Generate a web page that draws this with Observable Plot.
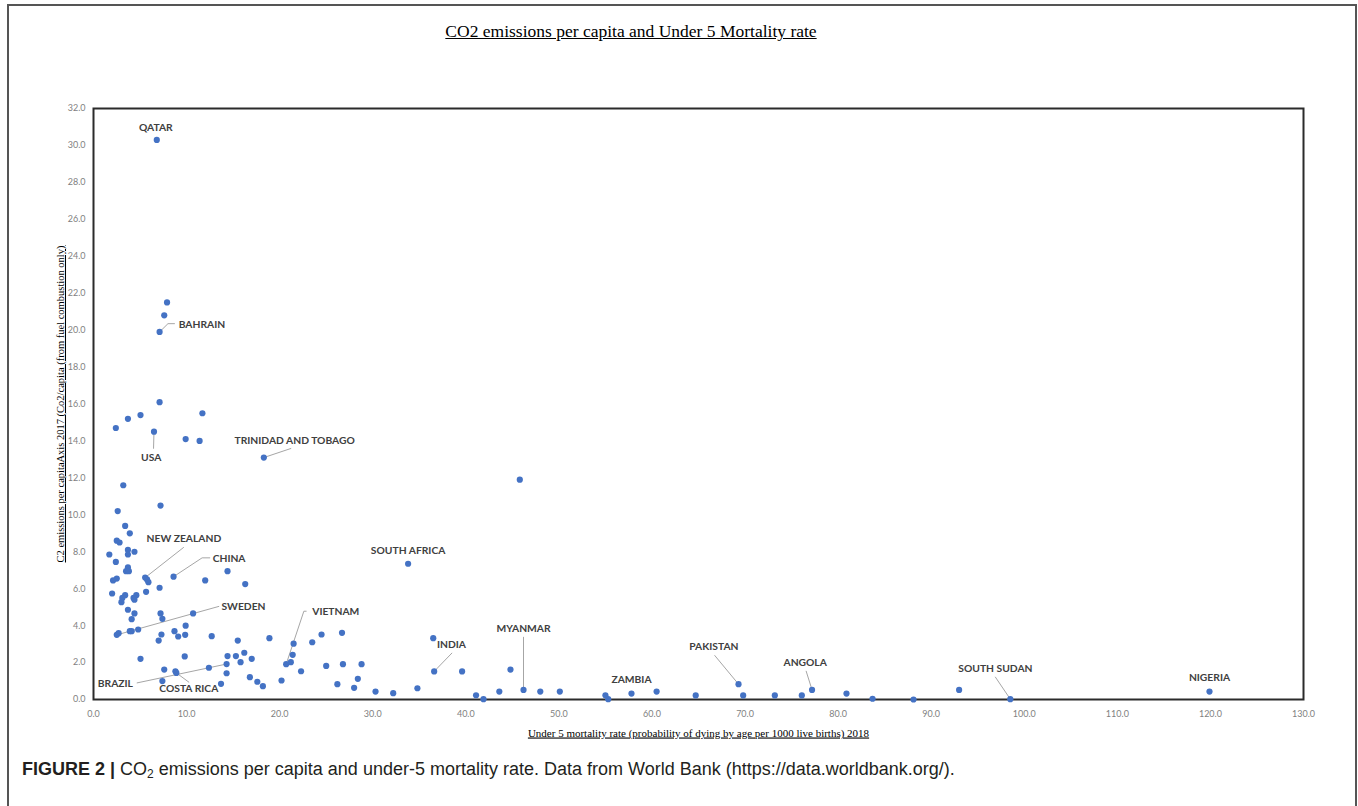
<!DOCTYPE html>
<html>
<head>
<meta charset="utf-8">
<script src="https://cdn.jsdelivr.net/npm/d3@7"></script>
<script src="https://cdn.jsdelivr.net/npm/@observablehq/plot@0.6"></script>
<style>
  html, body { margin: 0; padding: 0; background: #fff; width: 1358px; height: 806px; overflow: hidden; }
  #frame { position: absolute; left: 7px; top: 4px; width: 1346px; height: 900px; border: 2px solid #555; border-bottom: none; }
  #title { position: absolute; top: 21px; left: 0; width: 1262px; text-align: center; font-family: "Liberation Serif", serif; font-size: 17.5px; color: #000; }
  #title span { text-decoration: underline; }
  #chart { position: absolute; left: 0; top: 90px; }
  #caption { position: absolute; left: 22px; top: 759px; font-family: "Liberation Sans", sans-serif; font-size: 18px; color: #231f20; white-space: nowrap; }
  #caption b { font-weight: bold; }
  #caption sub { font-size: 12px; vertical-align: -3px; line-height: 0; }
  #chart [aria-label="x-axis label"] text {
    font-family: "Liberation Serif", serif; font-size: 11px; text-decoration: underline; fill: #000;
  }
  #chart [aria-label="y-axis label"] text {
    font-family: "Liberation Serif", serif; font-size: 10.5px; text-decoration: underline; fill: #000;
  }
  #chart [aria-label="x-axis tick label"] text, #chart [aria-label="y-axis tick label"] text { fill: #7f7f7f; }
</style>
</head>
<body>
<div id="frame"></div>
<div id="title"><span>CO2 emissions per capita and Under 5 Mortality rate</span></div>
<div id="chart"></div>
<div id="caption"><b>FIGURE 2 |</b> CO<sub>2</sub> emissions per capita and under-5 mortality rate. Data from World Bank (https://data.worldbank.org/).</div>
<script>
// ---- data ----
const mortality = [6.8,7.9,7.6,7.1,7.1,11.7,5.05,3.7,2.4,6.5,9.9,11.4,18.3,45.8,3.2,7.2,2.6,3.4,3.9,2.5,
  2.8,3.7,4.4,3.7,1.7,2.4,3.7,3.5,3.8,33.8,8.6,5.55,5.75,5.9,14.4,12.0,16.3,2.5,2.1,7.1,
  5.65,2.0,3.4,3.1,3.0,4.6,4.3,4.4,3.7,4.4,4.1,7.2,7.4,10.7,2.5,2.7,3.9,4.1,4.8,7.3,
  7.0,8.7,9.1,9.9,9.85,12.7,15.5,18.9,5.05,9.8,7.6,8.8,8.9,14.3,7.4,12.4,14.4,15.3,16.2,15.8,
  17.0,14.3,16.8,17.6,18.2,13.7,20.2,20.7,21.5,21.4,21.2,23.5,24.5,26.7,22.3,25.0,26.8,28.8,26.2,28.4,
  28.0,30.3,32.2,34.8,36.5,36.6,39.6,41.1,41.9,43.6,44.8,46.2,48.0,50.1,55.0,55.3,57.8,60.5,64.7,69.3,
  69.8,73.2,76.1,77.2,80.9,83.7,88.1,93.0,98.5,119.9];
const co2 = [30.3,21.5,20.8,19.9,16.1,15.5,15.4,15.2,14.7,14.5,14.1,14.0,13.1,11.9,11.6,10.5,10.2,9.4,9.0,8.6,
  8.5,8.1,8.0,7.85,7.85,7.45,7.15,6.95,6.95,7.35,6.65,6.6,6.5,6.35,6.95,6.45,6.25,6.55,6.45,6.05,
  5.83,5.74,5.65,5.5,5.27,5.65,5.5,5.4,4.86,4.66,4.35,4.66,4.37,4.66,3.5,3.59,3.7,3.7,3.79,3.52,
  3.19,3.7,3.41,4.0,3.5,3.43,3.19,3.32,2.2,2.33,1.62,1.53,1.44,1.92,1.0,1.72,2.35,2.35,2.53,2.02,
  2.2,1.42,1.21,0.96,0.72,0.85,1.03,1.91,3.02,2.42,2.02,3.1,3.52,3.61,1.53,1.82,1.91,1.91,0.83,1.12,
  0.63,0.43,0.34,0.61,3.32,1.52,1.52,0.23,0.02,0.43,1.62,0.52,0.43,0.43,0.23,0.02,0.32,0.43,0.22,0.83,
  0.22,0.22,0.22,0.52,0.32,0.04,0.0,0.52,0.02,0.43];
const labelNames = ["QATAR","BAHRAIN","USA","TRINIDAD AND TOBAGO","SOUTH AFRICA","CHINA","NEW ZEALAND","SWEDEN",
  "COSTA RICA","BRAZIL","VIETNAM","INDIA","MYANMAR","ZAMBIA","PAKISTAN","ANGOLA","SOUTH SUDAN","NIGERIA"];
const labelPoint = [0,3,9,12,29,30,31,54,72,73,87,105,111,116,119,123,128,129];
const xTicks = [0,10,20,30,40,50,60,70,80,90,100,110,120,130];
const yTicks = [0,2,4,6,8,10,12,14,16,18,20,22,24,26,28,30,32];
const xTitle = "Under 5 mortality rate (probability of dying by age per 1000 live births) 2018";
const yTitle = "C2 emissions per capitaAxis 2017 (Co2/capita (from fuel combustion only)";

// ---- annotation layout (label anchor and leader bends, in data units) ----
const labelLayout = {
  "QATAR": {at: [6.7, 30.97], anchor: "middle", leader: []},
  "BAHRAIN": {at: [9.15, 20.3], anchor: "start", leader: [[8.0, 20.35], [8.7, 20.35]]},
  "USA": {at: [6.2, 13.1], anchor: "middle", leader: [[6.45, 13.6]]},
  "TRINIDAD AND TOBAGO": {at: [15.15, 14.02], anchor: "start", leader: [[21.2, 13.59]]},
  "SOUTH AFRICA": {at: [33.8, 8.07], anchor: "middle", leader: []},
  "CHINA": {at: [12.8, 7.6], anchor: "start", leader: [[11.67, 7.67], [12.49, 7.67]]},
  "NEW ZEALAND": {at: [5.7, 8.72], anchor: "start", leader: [[9.67, 8.23]]},
  "SWEDEN": {at: [13.75, 5.0], anchor: "start", leader: [[13.46, 5.04]]},
  "COSTA RICA": {at: [10.24, 0.58], anchor: "middle", leader: [[10.24, 0.94]]},
  "BRAZIL": {at: [0.46, 0.85], anchor: "start", leader: [[4.69, 0.9]]},
  "VIETNAM": {at: [23.5, 4.73], anchor: "start", leader: [[22.6, 4.78], [22.85, 4.78]]},
  "INDIA": {at: [36.9, 2.96], anchor: "start", leader: [[38.5, 2.51]]},
  "MYANMAR": {at: [46.2, 3.86], anchor: "middle", leader: [[46.2, 3.37]]},
  "ZAMBIA": {at: [57.8, 1.07], anchor: "middle", leader: []},
  "PAKISTAN": {at: [66.65, 2.87], anchor: "middle", leader: [[66.75, 2.38]]},
  "ANGOLA": {at: [76.46, 1.99], anchor: "middle", leader: [[76.57, 1.53]]},
  "SOUTH SUDAN": {at: [96.9, 1.68], anchor: "middle", leader: [[96.9, 1.21]]},
  "NIGERIA": {at: [119.9, 1.17], anchor: "middle", leader: []}
};

const points = mortality.map((m, i) => ({m, c: co2[i]}));
const labels = labelNames.map((name) => {
  const L = labelLayout[name];
  return {name, x: L.at[0], y: L.at[1], anchor: L.anchor};
});
const leaders = [];
labelNames.forEach((name, k) => {
  const L = labelLayout[name];
  if (!L.leader.length) return;
  const i = labelPoint[k];
  leaders.push({name, x: mortality[i], y: co2[i]});
  L.leader.forEach(([x, y]) => leaders.push({name, x, y}));
});

const labelFont = {fontFamily: "Lato, sans-serif", fontWeight: "bold", fontSize: 10.3, fill: "#404040"};

const chart = Plot.plot({
  width: 1358,
  height: 660,
  marginLeft: 93,
  marginRight: 55,
  marginTop: 18,
  marginBottom: 51,
  style: {fontFamily: "Lato, sans-serif", fontSize: "9px", background: "transparent"},
  x: {domain: [0, 130]},
  y: {domain: [0, 32]},
  marks: [
    Plot.axisX({ticks: xTicks, tickSize: 0, tickPadding: 11, tickFormat: d => d.toFixed(1),
      label: xTitle, labelAnchor: "center", labelArrow: "none", labelOffset: 37}),
    Plot.axisY({ticks: yTicks, tickSize: 0, tickPadding: 8, tickFormat: d => d.toFixed(1),
      label: yTitle, labelAnchor: "center", labelArrow: "none", labelOffset: 37}),
    Plot.frame({stroke: "#2b2b2b", strokeWidth: 2}),
    Plot.line(leaders, {x: "x", y: "y", z: "name", stroke: "#a6a6a6", strokeWidth: 1}),
    Plot.dot(points, {x: "m", y: "c", r: 3.1, fill: "#4472C4", stroke: "none"}),
    Plot.text(labels.filter(d => d.anchor === "start"), {x: "x", y: "y", text: "name", textAnchor: "start", ...labelFont}),
    Plot.text(labels.filter(d => d.anchor === "middle"), {x: "x", y: "y", text: "name", textAnchor: "middle", ...labelFont})
  ]
});
document.getElementById("chart").appendChild(chart);
</script>
</body>
</html>
